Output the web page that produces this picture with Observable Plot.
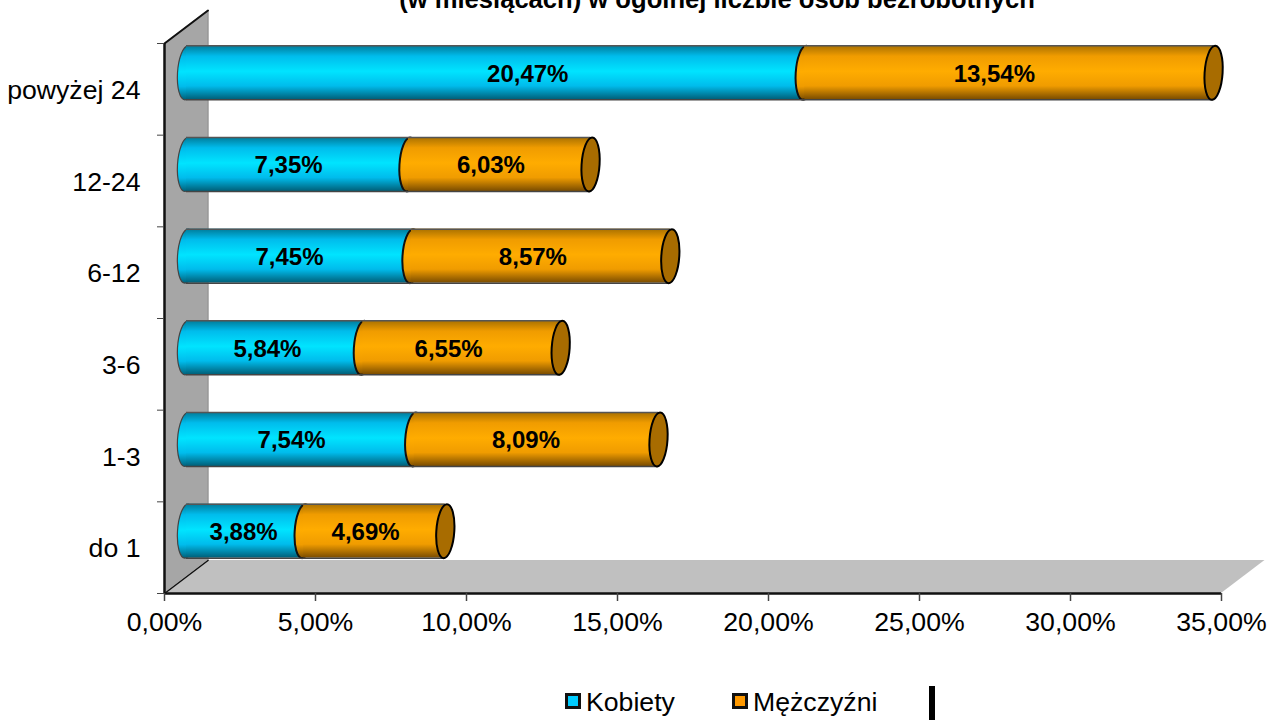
<!DOCTYPE html>
<html><head><meta charset="utf-8">
<script src="https://cdn.jsdelivr.net/npm/d3@7"></script>
<script src="https://cdn.jsdelivr.net/npm/@observablehq/plot@0.6"></script>
<style>
html,body{margin:0;padding:0;background:#fff;width:1269px;height:720px;overflow:hidden}
#wrap{position:relative;width:1269px;height:720px;font-family:"Liberation Sans",Arial,sans-serif;color:#000}
#title{position:absolute;left:317px;width:800px;top:-16px;text-align:center;font-weight:bold;font-size:25.6px;line-height:30px;white-space:nowrap}
.sw{position:absolute;top:693px;width:10px;height:10px;border:3px solid #111}
.lb{position:absolute;top:687px;font-size:26.67px;line-height:30px;white-space:nowrap}
#mark{position:absolute;left:929px;top:686px;width:6px;height:34px;background:#000}
svg{display:block}
</style></head><body>
<div id="wrap">
<div id="chart"></div>
<div id="title">(w miesiącach) w ogólnej liczbie osób bezrobotnych</div>
<div class="sw" style="left:565px;background:#00ccff"></div><div class="lb" style="left:586px">Kobiety</div>
<div class="sw" style="left:732px;background:#ff9900"></div><div class="lb" style="left:753px">Mężczyźni</div>
<div id="mark"></div>
</div>
<script>
// Data (bottom to top)
const categories = ["do 1","1-3","3-6","6-12","12-24","powyżej 24"];
const kobiety = [3.88,7.54,5.84,7.45,7.35,20.47];
const mezczyzni = [4.69,8.09,6.55,8.57,6.03,13.54];
const xTicks = [0,5,10,15,20,25,30,35];
// Label centres as placed in the reference (x units, %)
const kobietyLabelAt = [1.89,3.48,2.68,3.41,3.38,11.30];
const mezczyzniLabelAt = [5.93,11.24,8.68,11.47,10.08,26.75];

const fmt = v => v.toFixed(2).replace(".",",") + "%";
const depthX = 1.44, depthY = 0.36, half = 0.2945;
const DX = 22, DY = -16.5;
const idx = categories.map((_,i)=>i);

const row = idx.map(i => ({
  c: i + 0.5, k: kobiety[i], t: kobiety[i] + mezczyzni[i],
  y1: i + 0.5 - half, y2: i + 0.5 + half,
  kl: fmt(kobiety[i]), ml: fmt(mezczyzni[i]),
  kx: kobietyLabelAt[i], mx: mezczyzniLabelAt[i]
}));

// An upright, slightly leaning ellipse for the cylinder ends
const ellipse = { draw(ctx, size) {
  const ry = Math.sqrt(size / Math.PI), rx = ry / 3, k = 0.5523, s = 0.06;
  const P = (x,y) => [x - s*y, y];
  ctx.moveTo(...P(0,-ry));
  ctx.bezierCurveTo(...P(k*rx,-ry),...P(rx,-k*ry),...P(rx,0));
  ctx.bezierCurveTo(...P(rx,k*ry),...P(k*rx,ry),...P(0,ry));
  ctx.bezierCurveTo(...P(-k*rx,ry),...P(-rx,k*ry),...P(-rx,0));
  ctx.bezierCurveTo(...P(-rx,-k*ry),...P(-k*rx,-ry),...P(0,-ry));
  ctx.closePath();
}};

const grad = (id, a, b, c, d) => () => {
  const ns = "http://www.w3.org/2000/svg";
  const g = document.createElementNS(ns,"linearGradient");
  g.setAttribute("id",id); g.setAttribute("x1","0"); g.setAttribute("x2","0");
  g.setAttribute("y1","0"); g.setAttribute("y2","1");
  [[0,a],[0.2,b],[0.48,c],[0.75,b],[1,d]].forEach(([o,col])=>{
    const s = document.createElementNS(ns,"stop");
    s.setAttribute("offset",o); s.setAttribute("stop-color",col); g.appendChild(s);
  });
  const defs = document.createElementNS(ns,"defs"); defs.appendChild(g);
  return defs;
};

const wall = [{x:0,y1:0,y2:6},{x:depthX,y1:depthY,y2:6+depthY}];
const floor = [
  {x:0,y1:0,y2:0},{x:depthX,y1:0,y2:depthY},{x:35,y1:0,y2:depthY},{x:35+depthX,y1:depthY,y2:depthY}
];
const off = {dx:DX, dy:DY};

const chart = Plot.plot({
  width:1269, height:680,
  marginLeft:164, marginRight:48, marginTop:43, marginBottom:87,
  x:{domain:[0,35]}, y:{domain:[0,6]},
  style:{fontFamily:'"Liberation Sans",Arial,sans-serif', fontSize:"26.67px", color:"#000", background:"#fff"},
  marks:[
    grad("gb","#007a98","#00bcec","#00e4ff","#005f78"),
    grad("go","#a87000","#f09c00","#ffac00","#7a4c00"),
    Plot.areaY(floor,{x:"x",y1:"y1",y2:"y2",fill:"#c0c0c0"}),
    Plot.areaY(wall,{x:"x",y1:"y1",y2:"y2",fill:"#a6a6a6"}),
    Plot.line([[depthX,depthY],[depthX,6+depthY]],{stroke:"#666",strokeWidth:1}),
    Plot.line([[0,0],[depthX,depthY]],{stroke:"#111",strokeWidth:1.5}),
    Plot.line([[0,6],[depthX,6+depthY]],{stroke:"#111",strokeWidth:2}),
    Plot.ruleX([0],{y1:0,y2:6,stroke:"#111",strokeWidth:2.5}),
    Plot.ruleY([0],{x1:0,x2:35,stroke:"#111",strokeWidth:2.5}),
    // Kobiety
    Plot.dot(row,{x:0,y:"c",r:27,symbol:ellipse,fill:"url(#gb)",stroke:"#444",strokeWidth:1.2,...off}),
    Plot.rect(row,{x1:0,x2:"k",y1:"y1",y2:"y2",fill:"url(#gb)",...off}),
    // Mężczyźni
    Plot.dot(row,{x:"k",y:"c",r:27,symbol:ellipse,fill:"url(#go)",stroke:"#111",strokeWidth:2,...off}),
    Plot.rect(row,{x1:"k",x2:"t",y1:"y1",y2:"y2",fill:"url(#go)",...off}),
    Plot.ruleY(row,{y:"y1",x1:0,x2:"t",stroke:"#444",strokeWidth:1.5,...off}),
    Plot.ruleY(row,{y:"y2",x1:0,x2:"t",stroke:"#555",strokeWidth:1.5,...off}),
    Plot.dot(row,{x:"t",y:"c",r:27,symbol:ellipse,fill:"#a86c00",stroke:"#000",strokeWidth:2,...off}),
    // Value labels
    Plot.text(row,{x:"kx",y:"c",text:"kl",fontWeight:"bold",fontSize:24,fill:"#000",dx:DX,dy:DY+1}),
    Plot.text(row,{x:"mx",y:"c",text:"ml",fontWeight:"bold",fontSize:24,fill:"#000",dx:DX,dy:DY+1}),
    // Axes
    Plot.axisX({ticks:xTicks,tickFormat:fmt,tickSize:8,tickPadding:11,label:null,stroke:"#444",strokeWidth:1.5}),
    Plot.axisY({ticks:idx.concat(6),tickFormat:()=>null,tickSize:7,label:null,stroke:"#444"}),
    Plot.axisY({ticks:idx.map(i=>i+0.5),tickFormat:v=>categories[v-0.5],tickSize:0,tickPadding:24,dy:1,label:null})
  ]
});
document.getElementById("chart").appendChild(chart);
</script>
</body></html>
